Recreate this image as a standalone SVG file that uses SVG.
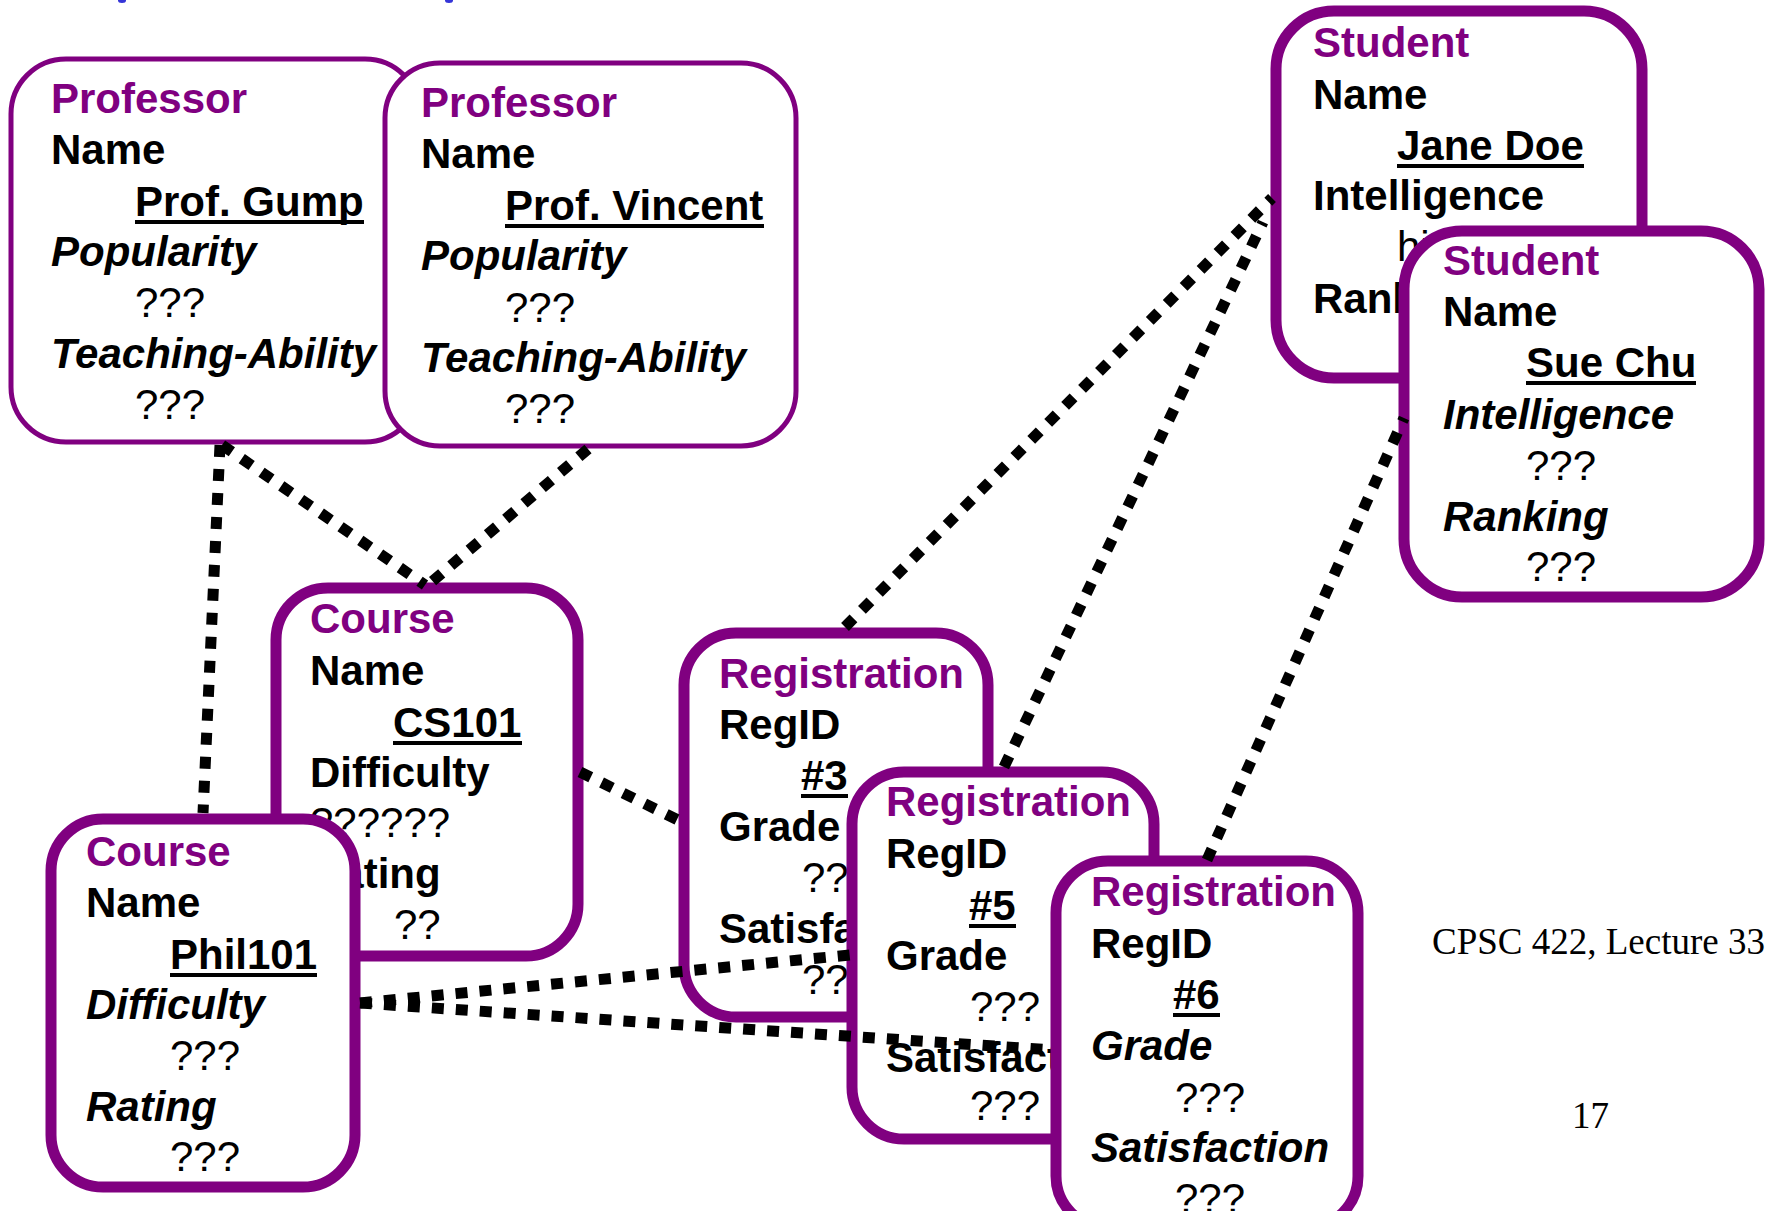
<svg xmlns="http://www.w3.org/2000/svg" width="1766" height="1211" viewBox="0 0 1766 1211">
  <style>
    .box { fill: #ffffff; stroke: #800080; stroke-width: 11; }
    .thin { stroke-width: 5; }
    text { font-family: "Liberation Sans", Arial, sans-serif; font-size: 42px; }
    .title { font-weight: bold; fill: #800080; }
    .attr { font-weight: bold; fill: #000000; }
    .ital { font-weight: bold; font-style: italic; fill: #000000; }
    .val { fill: #000000; }
    .key { font-weight: bold; fill: #000000; }
    .ul { stroke: #000000; stroke-width: 4; }
    .link { fill: none; stroke: #000000; stroke-width: 11; stroke-dasharray: 12 12; }
    .foot { font-family: "Liberation Serif", "Times New Roman", serif; font-size: 37px; fill: #000000; }
  </style>

  <!-- descender tips of the cut-off heading -->
  <g id="heading-tips" fill="#3535d8">
    <ellipse cx="122" cy="0.5" rx="4" ry="2.5"/>
    <ellipse cx="449" cy="0.5" rx="4" ry="2.5"/>
  </g>

  <!-- Professor: Prof. Gump -->
  <g id="prof-gump">
    <rect class="box thin" x="11" y="59" width="409" height="383" rx="55" ry="55"/>
    <text class="title" x="51" y="113">Professor</text>
    <text class="attr" x="51" y="164">Name</text>
    <text class="key" x="135" y="216">Prof. Gump</text>
    <line class="ul" x1="135" y1="222" x2="364" y2="222"/>
    <text class="ital" x="51" y="266">Popularity</text>
    <text class="val" x="135" y="317">???</text>
    <text class="ital" x="51" y="368">Teaching-Ability</text>
    <text class="val" x="135" y="419">???</text>
  </g>

  <!-- Professor: Prof. Vincent -->
  <g id="prof-vincent">
    <rect class="box thin" x="385" y="63" width="411" height="383" rx="55" ry="55"/>
    <text class="title" x="421" y="117">Professor</text>
    <text class="attr" x="421" y="168">Name</text>
    <text class="key" x="505" y="220">Prof. Vincent</text>
    <line class="ul" x1="505" y1="226" x2="764" y2="226"/>
    <text class="ital" x="421" y="270">Popularity</text>
    <text class="val" x="505" y="322">???</text>
    <text class="ital" x="421" y="372">Teaching-Ability</text>
    <text class="val" x="505" y="423">???</text>
  </g>

  <!-- Student: Jane Doe -->
  <g id="student-jane">
    <rect class="box" x="1276" y="11" width="366" height="367" rx="58" ry="58"/>
    <text class="title" x="1313" y="57">Student</text>
    <text class="attr" x="1313" y="109">Name</text>
    <text class="key" x="1397" y="160">Jane Doe</text>
    <line class="ul" x1="1397" y1="166" x2="1584" y2="166"/>
    <text class="attr" x="1313" y="210">Intelligence</text>
    <text class="val" x="1397" y="261">high</text>
    <text class="attr" x="1313" y="313">Ranking</text>
  </g>

  <!-- Student: Sue Chu -->
  <g id="student-sue">
    <rect class="box" x="1404" y="231" width="355" height="366" rx="58" ry="58"/>
    <text class="title" x="1443" y="275">Student</text>
    <text class="attr" x="1443" y="326">Name</text>
    <text class="key" x="1526" y="377">Sue Chu</text>
    <line class="ul" x1="1526" y1="383" x2="1696" y2="383"/>
    <text class="ital" x="1443" y="429">Intelligence</text>
    <text class="val" x="1526" y="480">???</text>
    <text class="ital" x="1443" y="531">Ranking</text>
    <text class="val" x="1526" y="581">???</text>
  </g>

  <!-- Course: CS101 -->
  <g id="course-cs101">
    <rect class="box" x="276" y="588" width="302" height="368" rx="52" ry="52"/>
    <text class="title" x="310" y="633">Course</text>
    <text class="attr" x="310" y="685">Name</text>
    <text class="key" x="393" y="737">CS101</text>
    <line class="ul" x1="393" y1="743" x2="522" y2="743"/>
    <text class="attr" x="310" y="787">Difficulty</text>
    <text class="val" x="310" y="837">??????</text>
    <text class="attr" x="310" y="888">Rating</text>
    <text class="val" x="394" y="939">??</text>
  </g>

  <!-- Course: Phil101 -->
  <g id="course-phil101">
    <rect class="box" x="51" y="819" width="304" height="368" rx="52" ry="52"/>
    <text class="title" x="86" y="866">Course</text>
    <text class="attr" x="86" y="917">Name</text>
    <text class="key" x="170" y="969">Phil101</text>
    <line class="ul" x1="170" y1="975" x2="317" y2="975"/>
    <text class="ital" x="86" y="1019">Difficulty</text>
    <text class="val" x="170" y="1070">???</text>
    <text class="ital" x="86" y="1121">Rating</text>
    <text class="val" x="170" y="1171">???</text>
  </g>

  <!-- Registration #3 -->
  <g id="reg-3">
    <rect class="box" x="684" y="633" width="304" height="384" rx="52" ry="52"/>
    <text class="title" x="719" y="688">Registration</text>
    <text class="attr" x="719" y="739">RegID</text>
    <text class="key" x="801" y="790">#3</text>
    <line class="ul" x1="801" y1="796" x2="848" y2="796"/>
    <text class="attr" x="719" y="841">Grade</text>
    <text class="val" x="802" y="892">???</text>
    <text class="attr" x="719" y="943">Satisfaction</text>
    <text class="val" x="802" y="994">???</text>
  </g>

  <!-- Registration #5 -->
  <g id="reg-5">
    <rect class="box" x="852" y="772" width="302" height="367" rx="52" ry="52"/>
    <text class="title" x="886" y="816">Registration</text>
    <text class="attr" x="886" y="868">RegID</text>
    <text class="key" x="969" y="920">#5</text>
    <line class="ul" x1="969" y1="926" x2="1016" y2="926"/>
    <text class="attr" x="886" y="970">Grade</text>
    <text class="val" x="970" y="1021">???</text>
    <text class="attr" x="886" y="1072">Satisfaction</text>
    <text class="val" x="970" y="1120">???</text>
  </g>

  <!-- Registration #6 -->
  <g id="reg-6">
    <rect class="box" x="1056" y="861" width="302" height="367" rx="52" ry="52"/>
    <text class="title" x="1091" y="906">Registration</text>
    <text class="attr" x="1091" y="958">RegID</text>
    <text class="key" x="1173" y="1009">#6</text>
    <line class="ul" x1="1173" y1="1015" x2="1220" y2="1015"/>
    <text class="ital" x="1091" y="1060">Grade</text>
    <text class="val" x="1175" y="1112">???</text>
    <text class="ital" x="1091" y="1162">Satisfaction</text>
    <text class="val" x="1175" y="1213">???</text>
  </g>

  <!-- dotted dependency links -->
  <g id="connectors">
    <line class="link" x1="220" y1="445" x2="203" y2="813"/>
    <line class="link" x1="222" y1="445" x2="425" y2="585"/>
    <line class="link" x1="588" y1="449" x2="428" y2="585"/>
    <line class="link" x1="580" y1="772" x2="678" y2="820"/>
    <line class="link" x1="360" y1="1003" x2="850" y2="955"/>
    <line class="link" x1="360" y1="1003" x2="1052" y2="1050"/>
    <line class="link" x1="845" y1="627" x2="1272" y2="198"/>
    <line class="link" x1="1004" y1="767" x2="1263" y2="222"/>
    <line class="link" x1="1207" y1="860" x2="1404" y2="418"/>
  </g>

  <!-- slide footer -->
  <g id="footer">
    <text class="foot" x="1432" y="954">CPSC 422, Lecture 33</text>
    <text class="foot" x="1572" y="1128">17</text>
  </g>
</svg>
